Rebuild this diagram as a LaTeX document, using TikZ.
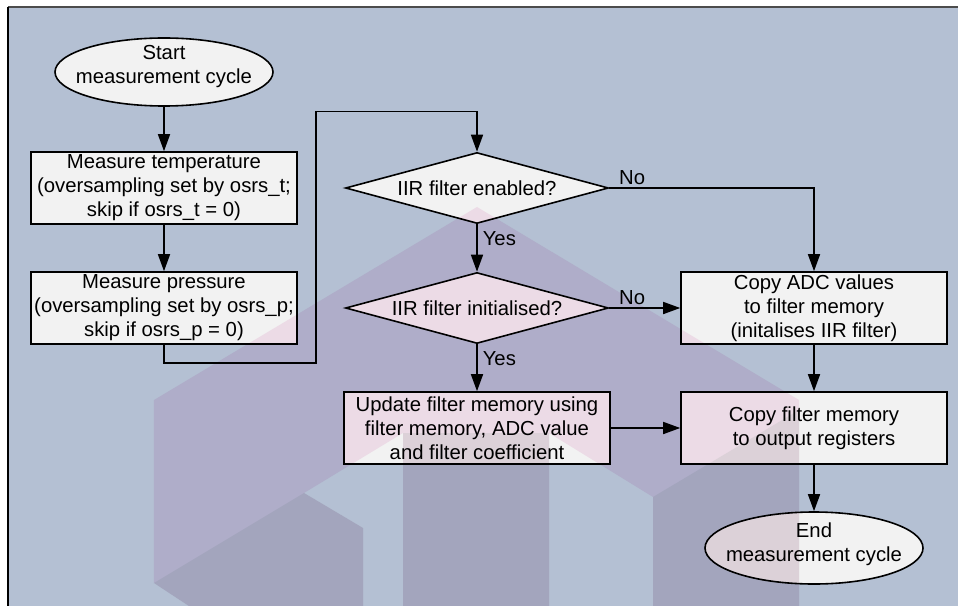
\documentclass[tikz,border=0pt]{standalone}
\usepackage{fontspec}
\setmainfont{Liberation Sans}
\usepackage{xcolor}
\usepackage{tikz}
\usetikzlibrary{arrows.meta}
\usetikzlibrary{positioning}
\usetikzlibrary{shapes.geometric}

\definecolor{bgblue}{HTML}{B4C0D3}
\definecolor{boxgrey}{HTML}{F2F2F2}
\definecolor{wmpurple}{RGB}{249,231,243}
\definecolor{wmdark}{RGB}{238,244,240}

\tikzset{
  block/.style={draw, fill=boxgrey, align=center, minimum width=266bp, minimum height=72bp, inner sep=0pt},
  decision/.style={draw, fill=boxgrey, diamond, aspect=3.7, minimum width=263bp, minimum height=71bp, inner sep=0pt},
  terminal/.style={draw, fill=boxgrey, ellipse, minimum width=218bp, minimum height=68bp, inner sep=0pt},
  yeslbl/.style={right, inner sep=5bp},
  nolbl/.style={above right, inner sep=3bp, xshift=6bp}
}

\begin{document}
\begin{tikzpicture}[x=1bp, y=1bp, node distance=120bp, line width=1.6bp,
  >={Triangle[length=17bp,width=12bp]}, font=\fontsize{20.3bp}{24bp}\selectfont]
	 % page and frame, in pixel coordinates
	 \begin{scope}[shift={(-164,72)}, yscale=-1]
	 \useasboundingbox (0,0) rectangle (958,606);
	 \fill[bgblue] (9,8) rectangle (958,606);
	 \draw[black!70, line width=2bp] (8,7) -- (958,7);
	 \draw[black, line width=2bp] (8,7) -- (8,606);
	 \end{scope}
	 \node[terminal, label={[align=center, yshift=5bp]center:{Start\\measurement cycle}}] (start) {};
	 \node[block, below of=start, node distance=116bp] (temp) {Measure temperature\\(oversampling set by osrs\_t;\\skip if osrs\_t = 0)};
	 \node[block, below of=temp] (press) {Measure pressure\\(oversampling set by osrs\_p;\\skip if osrs\_p = 0)};
	 \node[decision, right of=temp, node distance=313bp] (enabled) {IIR filter enabled?};
	 \node[decision, below of=enabled] (initd) {IIR filter initialised?};
	 \node[block, below of=initd] (update) {Update filter memory using\\filter memory, ADC value\\and filter coefficient};
	 \node[block, right of=initd, node distance=337bp] (copyadc) {Copy ADC values\\to filter memory\\(initalises IIR filter)};
	 \node[block, below of=copyadc] (output) {Copy filter memory\\to output registers};
	 \node[terminal, below of=output, minimum height=72bp, label={[align=center, yshift=4bp]center:{End\\measurement cycle}}] (finish) {};
	 \coordinate (ret) at ([shift={(18bp,-18bp)}]press.south east);
	 \coordinate (over) at ([yshift=40bp]enabled.north);
	 \draw[->] (start) -- (temp);
	 \draw[->] (temp) -- (press);
	 \draw[->] (press.south) |- (ret) |- (over) -- (enabled.north);
	 \draw[->] (enabled) -- node[pos=0.3, yeslbl] {Yes} (initd);
	 \draw[->] (enabled.east) node[nolbl] {No} -| (copyadc.north);
	 \draw[->] (initd) -- node[pos=0.3, yeslbl] {Yes} (update);
	 \draw[->] (initd.east) node[nolbl] {No} -- (copyadc.west);
	 \draw[->] (copyadc) -- (output);
	 \draw[->] (update) -- (output);
	 \draw[->] (output) -- (finish);
	 % watermark laid over everything
	 \begin{scope}[shift={(-164,72)}, yscale=-1, blend mode=multiply]
	 \fill[wmpurple, even odd rule] (154,583) -- (154,400) -- (477,207) -- (799,400) -- (799,606) -- (189,606) -- cycle
	   (304,493) -- (403,433) -- (403,606) -- (363,606) -- (363,528) -- cycle
	   (549,433) -- (653,497) -- (653,606) -- (549,606) -- cycle;
	 \fill[wmdark] (154,583) -- (304,493) -- (363,528) -- (363,606) -- (189,606) -- cycle
	   (403,433) -- (549,433) -- (549,606) -- (403,606) -- cycle
	   (653,497) -- (799,410) -- (799,606) -- (653,606) -- cycle;
	 \end{scope}
\end{tikzpicture}
\end{document}
